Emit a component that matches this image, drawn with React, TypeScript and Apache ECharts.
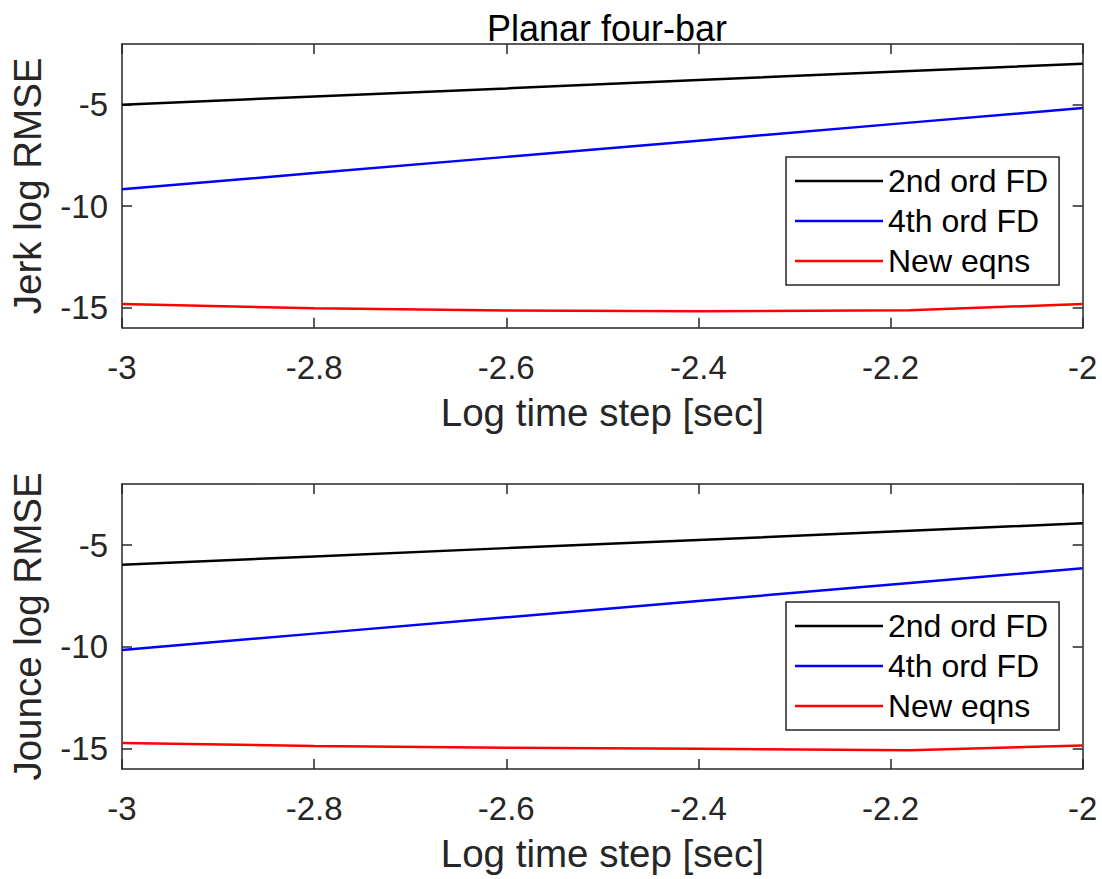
import React, { useEffect, useRef } from "react";
import * as echarts from "echarts";

const xSteps = [-3, -2.8, -2.6, -2.4, -2.18, -2];
const seriesNames = ["2nd ord FD", "4th ord FD", "New eqns"];
const seriesColors = ["#000000", "#0000ff", "#ff0000"];

const jerk2nd = [-5.0, -4.59, -4.19, -3.78, -3.33, -2.97];
const jerk4th = [-9.17, -8.37, -7.57, -6.77, -5.88, -5.16];
const jerkNew = [-14.83, -15.04, -15.15, -15.19, -15.14, -14.83];

const jounce2nd = [-5.97, -5.56, -5.15, -4.75, -4.3, -3.93];
const jounce4th = [-10.15, -9.35, -8.55, -7.75, -6.86, -6.14];
const jounceNew = [-14.72, -14.87, -14.96, -15.01, -15.08, -14.84];

const yTicks = [-15, -10, -5];
const titleText = "Planar four-bar";
const xLabel = "Log time step [sec]";
const yLabels = ["Jerk log RMSE", "Jounce log RMSE"];

const FONT = "'Liberation Sans', Arial, Helvetica, sans-serif";
const AXC = "#262626";

export default function App() {
  const ref = useRef<HTMLDivElement>(null);
  useEffect(() => {
    if (!ref.current) return;
    const chart = echarts.init(ref.current, undefined, { renderer: "svg" });
    const grids = [
      { left: 121.7, right: 19.3, top: 44, height: 283.7 },
      { left: 121.7, right: 19.3, top: 484, height: 285 },
    ];
    const lineStyleAxis = { color: AXC, width: 1.5 };
    const xAxes: any[] = [];
    const yAxes: any[] = [];
    grids.forEach((_, gi) => {
      xAxes.push({
        type: "value",
        gridIndex: gi,
        min: -3,
        max: -2,
        interval: 0.2,
        position: "bottom",
        name: xLabel,
        nameLocation: "middle",
        nameGap: 65,
        nameTextStyle: { fontFamily: FONT, fontSize: 38.5, color: AXC },
        axisLine: { show: true, onZero: false, lineStyle: lineStyleAxis },
        axisTick: { show: true, inside: true, length: 10, lineStyle: lineStyleAxis },
        axisLabel: {
          fontFamily: FONT,
          fontSize: 33,
          color: AXC,
          margin: 23,
          formatter: (v: number) => String(Math.round(v * 10) / 10),
        },
        splitLine: { show: false },
      });
      xAxes.push({
        type: "value",
        gridIndex: gi,
        min: -3,
        max: -2,
        interval: 0.2,
        position: "top",
        axisLine: { show: true, onZero: false, lineStyle: lineStyleAxis },
        axisTick: { show: true, inside: true, length: 10, lineStyle: lineStyleAxis },
        axisLabel: { show: false },
        splitLine: { show: false },
      });
      yAxes.push({
        type: "value",
        gridIndex: gi,
        min: -16,
        max: -2,
        position: "left",
        name: yLabels[gi],
        nameLocation: "middle",
        nameGap: 75,
        nameTextStyle: { fontFamily: FONT, fontSize: 38.5, color: AXC },
        axisLine: { show: true, onZero: false, lineStyle: lineStyleAxis },
        axisTick: { show: true, inside: true, length: 10, customValues: yTicks, lineStyle: lineStyleAxis },
        axisLabel: { fontFamily: FONT, fontSize: 33, color: AXC, margin: 14, customValues: yTicks },
        splitLine: { show: false },
      });
      yAxes.push({
        type: "value",
        gridIndex: gi,
        min: -16,
        max: -2,
        position: "right",
        axisLine: { show: true, onZero: false, lineStyle: lineStyleAxis },
        axisTick: { show: true, inside: true, length: 10, customValues: yTicks, lineStyle: lineStyleAxis },
        axisLabel: { show: false, customValues: yTicks },
        splitLine: { show: false },
      });
    });

    const dataSets = [
      [jerk2nd, jerk4th, jerkNew],
      [jounce2nd, jounce4th, jounceNew],
    ];
    const series: any[] = [];
    dataSets.forEach((sets, gi) => {
      sets.forEach((vals, si) => {
        series.push({
          type: "line",
          name: seriesNames[si],
          xAxisIndex: gi * 2,
          yAxisIndex: gi * 2,
          data: xSteps.map((x, i) => [x, vals[i]]),
          symbol: "none",
          showSymbol: false,
          lineStyle: { color: seriesColors[si], width: 2.5 },
          itemStyle: { color: seriesColors[si] },
        });
      });
    });

    const legendBase = {
      orient: "vertical",
      left: 786,
      icon: "rect",
      itemWidth: 88,
      itemHeight: 2.5,
      itemGap: 4,
      padding: [6, 11, 6, 9],
      borderColor: AXC,
      borderWidth: 1.5,
      backgroundColor: "#ffffff",
      selectedMode: false,
      textStyle: { fontFamily: FONT, fontSize: 32, color: "#000", lineHeight: 36, padding: [0, 0, 0, 0] },
      data: seriesNames.map((n) => ({ name: n })),
    };

    chart.setOption({
      animation: false,
      backgroundColor: "#ffffff",
      title: {
        text: titleText,
        left: 602,
        top: 5,
        textAlign: "center",
        textStyle: { fontFamily: FONT, fontSize: 36, fontWeight: "normal", color: "#000" },
      },
      legend: [
        { ...legendBase, top: 157 },
        { ...legendBase, top: 602 },
      ],
      grid: grids,
      xAxis: xAxes,
      yAxis: yAxes,
      series,
    });
    return () => chart.dispose();
  }, []);
  return (
    <div
      ref={ref}
      style={{ position: "fixed", left: 0, top: 0, width: 1102, height: 879, background: "#fff" }}
    />
  );
}
